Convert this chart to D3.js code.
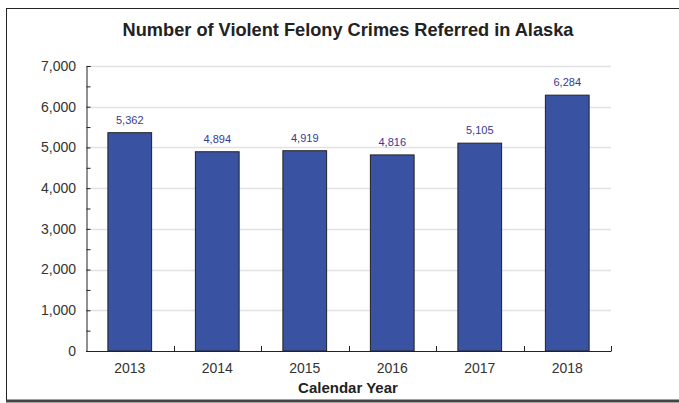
<!DOCTYPE html>
<html lang="en">
<head>
<meta charset="UTF-8" />
<title>Violent Felony Crimes Referred in Alaska</title>
<script src="https://d3js.org/d3.v7.min.js"></script>
<style>
  body { margin: 0; background: #fff; }
  svg { display: block; font-family: "Liberation Sans", Arial, sans-serif; }
</style>
</head>
<body>
<div id="chart"></div>
<script>
const years = ["2013", "2014", "2015", "2016", "2017", "2018"];
const referred = [5362, 4894, 4919, 4816, 5105, 6284];
const yTicks = [0, 1000, 2000, 3000, 4000, 5000, 6000, 7000];

const width = 679, height = 403;
const margin = { top: 66, right: 68, bottom: 52, left: 86 };

const svg = d3.select("#chart").append("svg")
  .attr("width", width)
  .attr("height", height);

// frame
svg.append("line").attr("x1", 6.5).attr("x2", width).attr("y1", 8.5).attr("y2", 8.5)
  .attr("stroke", "#222").attr("stroke-width", 1);
svg.append("line").attr("x1", 6.5).attr("x2", 6.5).attr("y1", 8).attr("y2", 401)
  .attr("stroke", "#222").attr("stroke-width", 1);
svg.append("line").attr("x1", 6).attr("x2", width).attr("y1", 401).attr("y2", 401)
  .attr("stroke", "#444").attr("stroke-width", 3);

const x = d3.scaleBand()
  .domain(years)
  .range([margin.left, width - margin.right])
  .paddingInner(0.5)
  .paddingOuter(0.25);

const y = d3.scaleLinear()
  .domain([0, 7000])
  .range([height - margin.bottom, margin.top]);

// grid
svg.append("g")
  .selectAll("line")
  .data(yTicks.slice(1))
  .join("line")
  .attr("x1", margin.left)
  .attr("x2", width - margin.right)
  .attr("y1", d => Math.round(y(d)) + 0.5)
  .attr("y2", d => Math.round(y(d)) + 0.5)
  .attr("stroke", "#e2e2e2")
  .attr("stroke-width", 1.5);

// bars
svg.append("g")
  .selectAll("rect")
  .data(referred)
  .join("rect")
  .attr("x", (d, i) => x(years[i]))
  .attr("y", d => y(d))
  .attr("width", x.bandwidth())
  .attr("height", d => y(0) - y(d))
  .attr("fill", "#3a52a2")
  .attr("stroke", "#222")
  .attr("stroke-width", 1);

// value labels
svg.append("g")
  .selectAll("text")
  .data(referred)
  .join("text")
  .attr("x", (d, i) => x(years[i]) + x.bandwidth() / 2)
  .attr("y", d => y(d) - 9)
  .attr("text-anchor", "middle")
  .attr("font-size", 11)
  .attr("fill", "#333a94")
  .text(d => d3.format(",")(d));

// y axis
const yAxis = svg.append("g")
  .attr("transform", `translate(${margin.left + 0.5},0)`)
  .call(d3.axisRight(y).tickValues(d3.range(0, 7001, 500)).tickSize(4).tickFormat(""));
yAxis.select(".domain").attr("stroke", "#222");
yAxis.selectAll(".tick line").attr("stroke", "#222");

svg.append("g")
  .selectAll("text")
  .data(yTicks)
  .join("text")
  .attr("x", margin.left - 10)
  .attr("y", d => y(d))
  .attr("dy", "0.35em")
  .attr("text-anchor", "end")
  .attr("font-size", 14)
  .attr("fill", "#333")
  .text(d => d3.format(",")(d));

// x axis
const xBottom = height - margin.bottom;
svg.append("line")
  .attr("x1", margin.left).attr("x2", width - margin.right + 0.5)
  .attr("y1", xBottom + 0.5).attr("y2", xBottom + 0.5)
  .attr("stroke", "#222");
const step = x.step();
svg.append("g")
  .selectAll("line")
  .data(years.map((d, i) => i + 1))
  .join("line")
  .attr("x1", i => Math.round(margin.left + i * step) + 0.5)
  .attr("x2", i => Math.round(margin.left + i * step) + 0.5)
  .attr("y1", xBottom)
  .attr("y2", xBottom - 5)
  .attr("stroke", "#222");

svg.append("g")
  .selectAll("text")
  .data(years)
  .join("text")
  .attr("x", d => x(d) + x.bandwidth() / 2)
  .attr("y", xBottom + 22)
  .attr("text-anchor", "middle")
  .attr("font-size", 14)
  .attr("fill", "#333")
  .text(d => d);

svg.append("text")
  .attr("x", 348)
  .attr("y", 393)
  .attr("text-anchor", "middle")
  .attr("font-size", 15)
  .attr("font-weight", "bold")
  .attr("fill", "#222")
  .text("Calendar Year");

svg.append("text")
  .attr("x", 348)
  .attr("y", 36)
  .attr("text-anchor", "middle")
  .attr("font-size", 18.2)
  .attr("font-weight", "bold")
  .attr("fill", "#222")
  .text("Number of Violent Felony Crimes Referred in Alaska");
</script>
</body>
</html>
